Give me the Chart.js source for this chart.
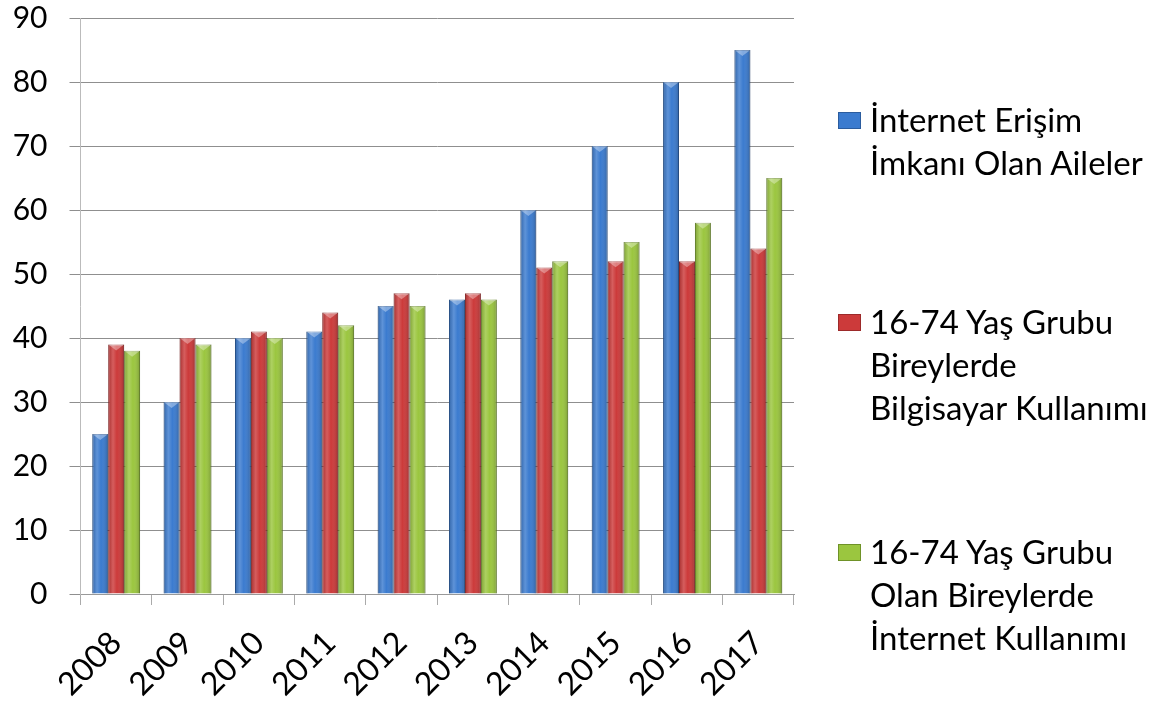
<!DOCTYPE html>
<html>
<head>
<meta charset="utf-8">
<script src="https://cdn.jsdelivr.net/npm/chart.js@4.4.1/dist/chart.umd.min.js"></script>
<style>
  body { margin: 0; background: #fff; }
  #wrap { position: relative; width: 1169px; height: 702px; }
  #legend { position: absolute; left: 838px; top: 0; font-family: Lato, "Open Sans", sans-serif; font-size: 33px; line-height: 43px; color: #000; }
  .item { position: absolute; left: 0; white-space: nowrap; }
  .box { position: absolute; left: 0; top: 14px; width: 21px; height: 15px; }
  .txt { position: absolute; left: 32px; top: 0; }
</style>
</head>
<body>
<div id="wrap">
  <canvas id="grafica" width="1169" height="702"></canvas>
  <div id="legend"></div>
</div>
<script>
var anios = ["2008", "2009", "2010", "2011", "2012", "2013", "2014", "2015", "2016", "2017"];

var erisimAileler = [25, 30, 40, 41, 45, 46, 60, 70, 80, 85];
var bilgisayarKullanimi = [39, 40, 41, 44, 47, 47, 51, 52, 52, 54];
var internetKullanimi = [38, 39, 40, 42, 45, 46, 52, 55, 58, 65];

var etiketler = [
	["İnternet Erişim", "İmkanı Olan Aileler"],
	["16-74 Yaş Grubu", "Bireylerde", "Bilgisayar Kullanımı"],
	["16-74 Yaş Grubu", "Olan Bireylerde", "İnternet Kullanımı"]
];

var colores = {
	blue: '#3b7bcf',
	blueDark: '#2b5c9e',
	red: '#cc3a3a',
	redDark: '#9c2a2a',
	green: '#9bc63f',
	greenDark: '#6f9228'
};

// brillo horizontal tipo office 2007
var brilloBarras = {
	id: 'brilloBarras',
	afterDatasetsDraw: function(chart) {
		var ctx = chart.ctx;
		chart.data.datasets.forEach(function(ds, i) {
			var meta = chart.getDatasetMeta(i);
			meta.data.forEach(function(bar) {
				var left = bar.x - bar.width / 2;
				var top = bar.y;
				var h = bar.base - bar.y;
				var g = ctx.createLinearGradient(left, 0, left + bar.width, 0);
				g.addColorStop(0, 'rgba(0,0,0,0.18)');
				g.addColorStop(0.3, 'rgba(255,255,255,0.18)');
				g.addColorStop(0.55, 'rgba(255,255,255,0)');
				g.addColorStop(1, 'rgba(0,0,0,0.22)');
				ctx.save();
				ctx.fillStyle = g;
				ctx.fillRect(left, top, bar.width, h);
				// pico claro arriba
				ctx.fillStyle = 'rgba(255,255,255,0.35)';
				ctx.beginPath();
				ctx.moveTo(left, top);
				ctx.lineTo(left + bar.width, top);
				ctx.lineTo(bar.x, top + 6);
				ctx.closePath();
				ctx.fill();
				ctx.restore();
			});
		});
	}
};

var DataInternet = {
	labels: anios,
	datasets: [
		{
			label: etiketler[0].join(' '),
			backgroundColor: colores.blue,
			borderColor: colores.blueDark,
			borderWidth: 1,
			data: erisimAileler
		},
		{
			label: etiketler[1].join(' '),
			backgroundColor: colores.red,
			borderColor: colores.redDark,
			borderWidth: 1,
			data: bilgisayarKullanimi
		},
		{
			label: etiketler[2].join(' '),
			backgroundColor: colores.green,
			borderColor: colores.greenDark,
			borderWidth: 1,
			data: internetKullanimi
		}
	]
};

var fuenteY = { family: 'Lato, "Open Sans", sans-serif', size: 30 };
var fuenteX = { family: 'Lato, "Open Sans", sans-serif', size: 32 };

var grafica = new Chart(document.getElementById('grafica'), {
	type: 'bar',
	data: DataInternet,
	plugins: [brilloBarras],
	options: {
		responsive: false,
		animation: false,
		layout: { padding: { top: 0, right: 375, left: 0, bottom: 0 } },
		plugins: {
			legend: { display: false },
			tooltip: { enabled: false }
		},
		datasets: {
			bar: { categoryPercentage: 0.67, barPercentage: 1 }
		},
		scales: {
			x: {
				grid: { display: true, drawOnChartArea: false, color: '#aaaaaa', tickLength: 11, offset: true },
				border: { color: '#999999' },
				ticks: { color: '#000', font: fuenteX, minRotation: 45, maxRotation: 45, padding: 19 },
				afterFit: function(scale) { scale.height = 108; }
			},
			y: {
				min: 0,
				max: 90,
				grid: { color: '#8f8f8f', tickLength: 11 },
				border: { color: '#bbbbbb' },
				ticks: { stepSize: 10, color: '#000', font: fuenteY, padding: 22 },
				afterFit: function(scale) {
					scale.width = 80.5;
					scale.paddingTop = 18;
				}
			}
		}
	}
});

// leyenda a la derecha
var posiciones = [98, 300, 530];
var leyenda = document.getElementById('legend');
var cajas = [colores.blue, colores.red, colores.green];
etiketler.forEach(function(lineas, i) {
	var item = document.createElement('div');
	item.className = 'item';
	item.style.top = posiciones[i] + 'px';
	var box = document.createElement('div');
	box.className = 'box';
	box.style.background = cajas[i];
	box.style.border = '1px solid ' + DataInternet.datasets[i].borderColor;
	var txt = document.createElement('div');
	txt.className = 'txt';
	txt.innerHTML = lineas.join('<br>');
	item.appendChild(box);
	item.appendChild(txt);
	leyenda.appendChild(item);
});
</script>
</body>
</html>
